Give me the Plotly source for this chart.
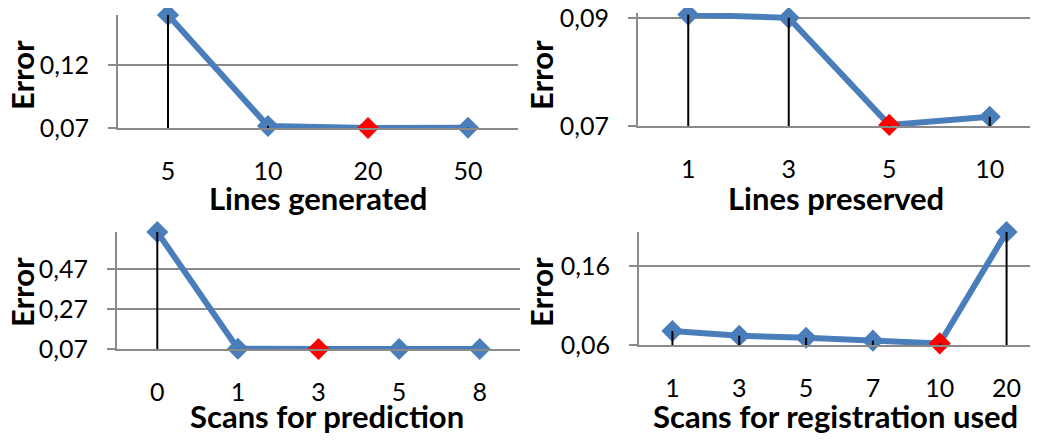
import plotly.graph_objects as go

# ---------------- data ----------------
gen_cats = ["5", "10", "20", "50"]
gen_err = [0.160, 0.0716, 0.0700, 0.0702]
gen_best = 2
gen_range = [0.07, 0.16]
gen_ticks = [0.07, 0.12]

pres_cats = ["1", "3", "5", "10"]
pres_err = [0.0906, 0.0900, 0.0702, 0.0717]
pres_best = 2
pres_range = [0.07, 0.0909]
pres_ticks = [0.07, 0.09]

pred_cats = ["0", "1", "3", "5", "8"]
pred_err = [0.656, 0.071, 0.070, 0.070, 0.070]
pred_best = 2
pred_range = [0.07, 0.656]
pred_ticks = [0.07, 0.27, 0.47]

reg_cats = ["1", "3", "5", "7", "10", "20"]
reg_err = [0.0777, 0.0718, 0.0692, 0.0655, 0.0620, 0.203]
reg_best = 4
reg_range = [0.06, 0.203]
reg_ticks = [0.06, 0.16]

x_titles = ["Lines generated", "Lines preserved", "Scans for prediction", "Scans for registration used"]
y_title = "Error"

# ---------------- style ----------------
W, H = 1038, 441
OFF = 8  # page body margin
BLUE = "#4A7EBB"
RED = "#FF0000"
GRAY = "#8A8A8A"
FONT = "Lato"

# plot areas in page pixels: (x0, x1, ytop, ybottom)
boxes = [(118, 518, 15, 128), (638, 1040, 13, 126), (117, 520, 232, 349), (639, 1040, 232, 345)]
xtitle_pos = [(318, 198), (836, 198), (327, 416), (835, 416)]
ytitle_pos = [(22, 75), (541, 75), (22, 292), (541, 292)]

charts = [
    (gen_cats, gen_err, gen_best, gen_range, gen_ticks),
    (pres_cats, pres_err, pres_best, pres_range, pres_ticks),
    (pred_cats, pred_err, pred_best, pred_range, pred_ticks),
    (reg_cats, reg_err, reg_best, reg_range, reg_ticks),
]


def fx(p):
    return (p - OFF) / W


def fy(p):
    return 1 - (p - OFF) / H


fig = go.Figure()
layout = dict(
    width=W, height=H, margin=dict(l=0, r=0, t=0, b=0, autoexpand=False),
    paper_bgcolor="white", plot_bgcolor="white",
    showlegend=False, separators=",.",
    font=dict(family=FONT, color="black", size=25),
)
annotations = []

for i, (cats, vals, best, yr, ticks) in enumerate(charts):
    n = i + 1
    xa = "x" if n == 1 else f"x{n}"
    ya = "y" if n == 1 else f"y{n}"
    x0, x1, yt, yb = boxes[i]
    colors = [RED if k == best else BLUE for k in range(len(cats))]
    fig.add_trace(go.Scatter(
        x=cats, y=vals, mode="lines+markers", xaxis=xa, yaxis=ya,
        line=dict(color=BLUE, width=6),
        marker=dict(symbol="diamond", size=17, color=colors, line=dict(width=0)),
        cliponaxis=False, hoverinfo="skip",
    ))
    dx, dy = [], []
    for c, v in zip(cats, vals):
        dx += [c, c, None]
        dy += [v, yr[0], None]
    fig.add_trace(go.Scatter(
        x=dx, y=dy, mode="lines", xaxis=xa, yaxis=ya,
        line=dict(color="black", width=2), cliponaxis=False, hoverinfo="skip",
    ))
    xkey = "xaxis" if n == 1 else f"xaxis{n}"
    ykey = "yaxis" if n == 1 else f"yaxis{n}"
    layout[xkey] = dict(
        domain=[fx(x0), min(fx(x1), 1)], anchor=ya, type="category",
        range=[-0.5, len(cats) - 0.5], automargin=False,
        showgrid=False, showline=True, linecolor=GRAY, linewidth=2,
        ticks="", ticklabelstandoff=20, tickfont=dict(size=25),
    )
    layout[ykey] = dict(
        domain=[fy(yb), fy(yt)], anchor=xa, range=yr, automargin=False,
        tickmode="array", tickvals=ticks, tickformat=".2f",
        showgrid=True, gridcolor=GRAY, gridwidth=2,
        showline=True, linecolor=GRAY, linewidth=2,
        ticks="outside", ticklen=8, tickwidth=2, tickcolor=GRAY,
        ticklabelstandoff=14, tickfont=dict(size=25), zeroline=False,
        ticklabeloverflow="allow",
    )
    tx, ty = xtitle_pos[i]
    annotations.append(dict(
        text=f"<b>{x_titles[i]}</b>", x=fx(tx), y=fy(ty), xref="paper", yref="paper",
        showarrow=False, xanchor="center", yanchor="middle", font=dict(size=31),
    ))
    ex, ey = ytitle_pos[i]
    annotations.append(dict(
        text=f"<b>{y_title}</b>", x=fx(ex), y=fy(ey), xref="paper", yref="paper",
        showarrow=False, xanchor="center", yanchor="middle", textangle=-90, font=dict(size=31),
    ))

layout["annotations"] = annotations
fig.update_layout(**layout)
fig.write_html("out.html")
